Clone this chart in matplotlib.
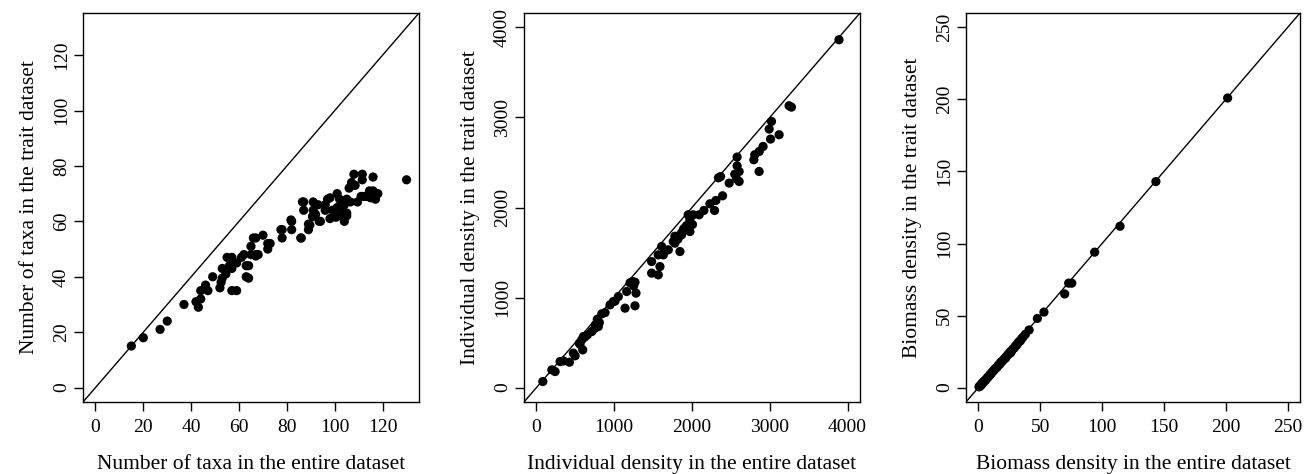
import matplotlib.pyplot as plt
import numpy as np

plt.rcParams['font.family'] = ['Liberation Serif', 'DejaVu Serif']

# Number of taxa (entire dataset, trait dataset)
taxa_pts = [
    (15, 15), (20, 18), (27, 21), (30, 24), (37, 30), (42, 31), (43, 29), (44, 32),
    (44, 35), (46, 37), (47, 35), (49, 40), (52, 36), (52.5, 38), (53, 39.5), (54.5, 41),
    (55, 47), (57, 47), (56, 44), (53, 43), (57, 35), (59, 35), (57, 43), (59, 45),
    (61, 47), (62, 48), (63, 44), (64, 39.5), (63, 40), (64, 44), (65, 51), (67, 48),
    (68, 48), (67, 54), (70, 55), (72, 50), (73, 52), (78, 54), (78, 57), (82, 60),
    (82, 57), (86, 54), (87, 67), (87, 64), (89, 59), (89, 57), (91, 67), (91, 64),
    (91, 62), (93, 66), (94, 60), (96, 66), (97, 68), (96, 64), (98, 61), (99, 64),
    (101, 70), (102, 68), (102, 65), (103, 62), (104, 60), (105, 63), (105, 68), (106, 72),
    (107, 74), (108, 77), (108.5, 73), (109.5, 67), (111, 69), (111.5, 77), (111.5, 75),
    (113, 69), (116, 76), (116, 71), (118, 70), (117, 68), (100, 62), (104, 66), (130, 75),
    (66, 54), (72, 52), (65, 48), (67, 47.5), (86.5, 67), (92, 62.5), (98, 68.5),
    (100.5, 61.5), (101, 65), (106.5, 67), (112, 69), (114.5, 71), (115, 68.5),
    (90.7, 61.7), (93.5, 60), (89.6, 58.7), (81.7, 60.5), (77.5, 57), (85.8, 54),
    (103, 64), (105, 62),
]
taxa_entire = [p[0] for p in taxa_pts]
taxa_trait = [p[1] for p in taxa_pts]

# Individual density (entire dataset, trait dataset)
dens_pts = [
    (82, 67), (198, 197), (240, 178), (304, 289), (347, 296), (424, 282), (475, 382),
    (497, 353), (552, 493), (582, 530), (595, 419), (604, 567), (655, 585), (711, 622),
    (754, 659), (796, 678), (809, 722), (783, 759), (840, 819), (882, 833), (946, 919),
    (989, 956), (1053, 1011), (1139, 882), (1160, 1067), (1203, 1163), (1235, 1178),
    (1267, 1170), (1280, 1049), (1267, 908), (1481, 1400), (1481, 1271), (1566, 1252),
    (1588, 1344), (1566, 1474), (1610, 1567), (1631, 1474), (1695, 1530), (1759, 1622),
    (1845, 1511), (1802, 1678), (1866, 1696), (1973, 1733), (1780, 1604), (3890, 3863),
    (3248, 3130), (3278, 3115), (3022, 2956), (2992, 2871), (3010, 2760), (3120, 2808),
    (2914, 2678), (2864, 2622), (2807, 2586), (2795, 2530), (2863, 2400), (2580, 2560),
    (2580, 2463), (2606, 2400), (2550, 2370), (2571, 2320), (2606, 2289), (2478, 2271),
    (2367, 2344), (2340, 2330), (2393, 2130), (2307, 2078), (2230, 2041), (2290, 1967),
    (2153, 1967), (2092, 1919), (2015, 1919), (1951, 1919), (1972, 1867), (2006, 1811),
    (1908, 1774), (1865, 1719), (1780, 1681), (1820, 1650), (1890, 1760), (1930, 1800),
    (1010, 960), (560, 480), (620, 560), (760, 700), (1250, 1130),
]
dens_entire = [p[0] for p in dens_pts]
dens_trait = [p[1] for p in dens_pts]

# Biomass density (entire dataset, trait dataset)
bio_pts = [
    (201.5, 201), (143.5, 143), (114.5, 112), (94, 94), (73, 72.5), (75.5, 72.5),
    (69.8, 65), (53, 52.4), (47.7, 48), (41, 40), (36, 35), (35, 34), (33, 32), (32, 31),
    (30, 29), (29, 27.5), (28, 27), (27, 25.5), (26, 25), (25, 24), (24, 23), (23, 22),
    (22, 21), (21, 20), (20, 19), (19, 18), (18, 17.5), (17, 16), (16, 15.5), (15, 14),
    (14, 13.5), (13, 12.5), (12, 11.5), (11, 10.5), (10, 9.5), (9, 8.5), (8, 7.5),
    (7, 6.5), (6, 5.5), (5, 4.5), (4, 4), (3, 3), (2, 2), (1, 1), (0.5, 0.5), (1.5, 1),
    (2.5, 2), (3.5, 3), (5.5, 5), (7.5, 7), (9.5, 9), (12.5, 12), (17.5, 16.5),
    (22, 20.5), (26, 24), (31, 29.5), (34, 32.5), (38, 37),
]
bio_entire = [p[0] for p in bio_pts]
bio_trait = [p[1] for p in bio_pts]

panels = [
    (taxa_entire, taxa_trait, (0, 130), np.arange(0, 121, 20),
     "Number of taxa in the entire dataset", "Number of taxa in the trait dataset"),
    (dens_entire, dens_trait, (0, 4000), np.arange(0, 4001, 1000),
     "Individual density in the entire dataset", "Individual density in the trait dataset"),
    (bio_entire, bio_trait, (0, 250), np.arange(0, 251, 50),
     "Biomass density in the entire dataset", "Biomass density in the trait dataset"),
]

W, H = 1306, 474
fig = plt.figure(figsize=(W / 100, H / 100), dpi=100)
lefts = [83, 524, 966]
widths = [336, 336, 334]
top, bottom = 13, 402

for (x, y, lim, ticks, xlab, ylab), l, w in zip(panels, lefts, widths):
    ax = fig.add_axes([l / W, (H - bottom) / H, w / W, (bottom - top) / H])
    pad = 0.04 * (lim[1] - lim[0])
    ax.set_xlim(lim[0] - pad, lim[1] + pad)
    ax.set_ylim(lim[0] - pad, lim[1] + pad)
    ax.axline((0, 0), slope=1, color='black', lw=1.0, zorder=1)
    ax.scatter(x, y, s=44, color='black', edgecolors='none', zorder=2)
    ax.set_xticks(ticks)
    ax.set_yticks(ticks)
    ax.tick_params(direction='out', length=6.5, width=1.0, labelsize=14, pad=6)
    ax.tick_params(axis='y', labelrotation=90, pad=3)
    for lab in ax.get_yticklabels():
        lab.set_verticalalignment('center')
    for s in ax.spines.values():
        s.set_linewidth(1.0)
    ax.set_xlabel(xlab, fontsize=15.5)
    ax.set_ylabel(ylab, fontsize=15.5)
    ax.xaxis.set_label_coords(0.5, -53 / (bottom - top))
    ax.yaxis.set_label_coords(-44 / w, 0.5)

fig.savefig('out.png', dpi=100)
